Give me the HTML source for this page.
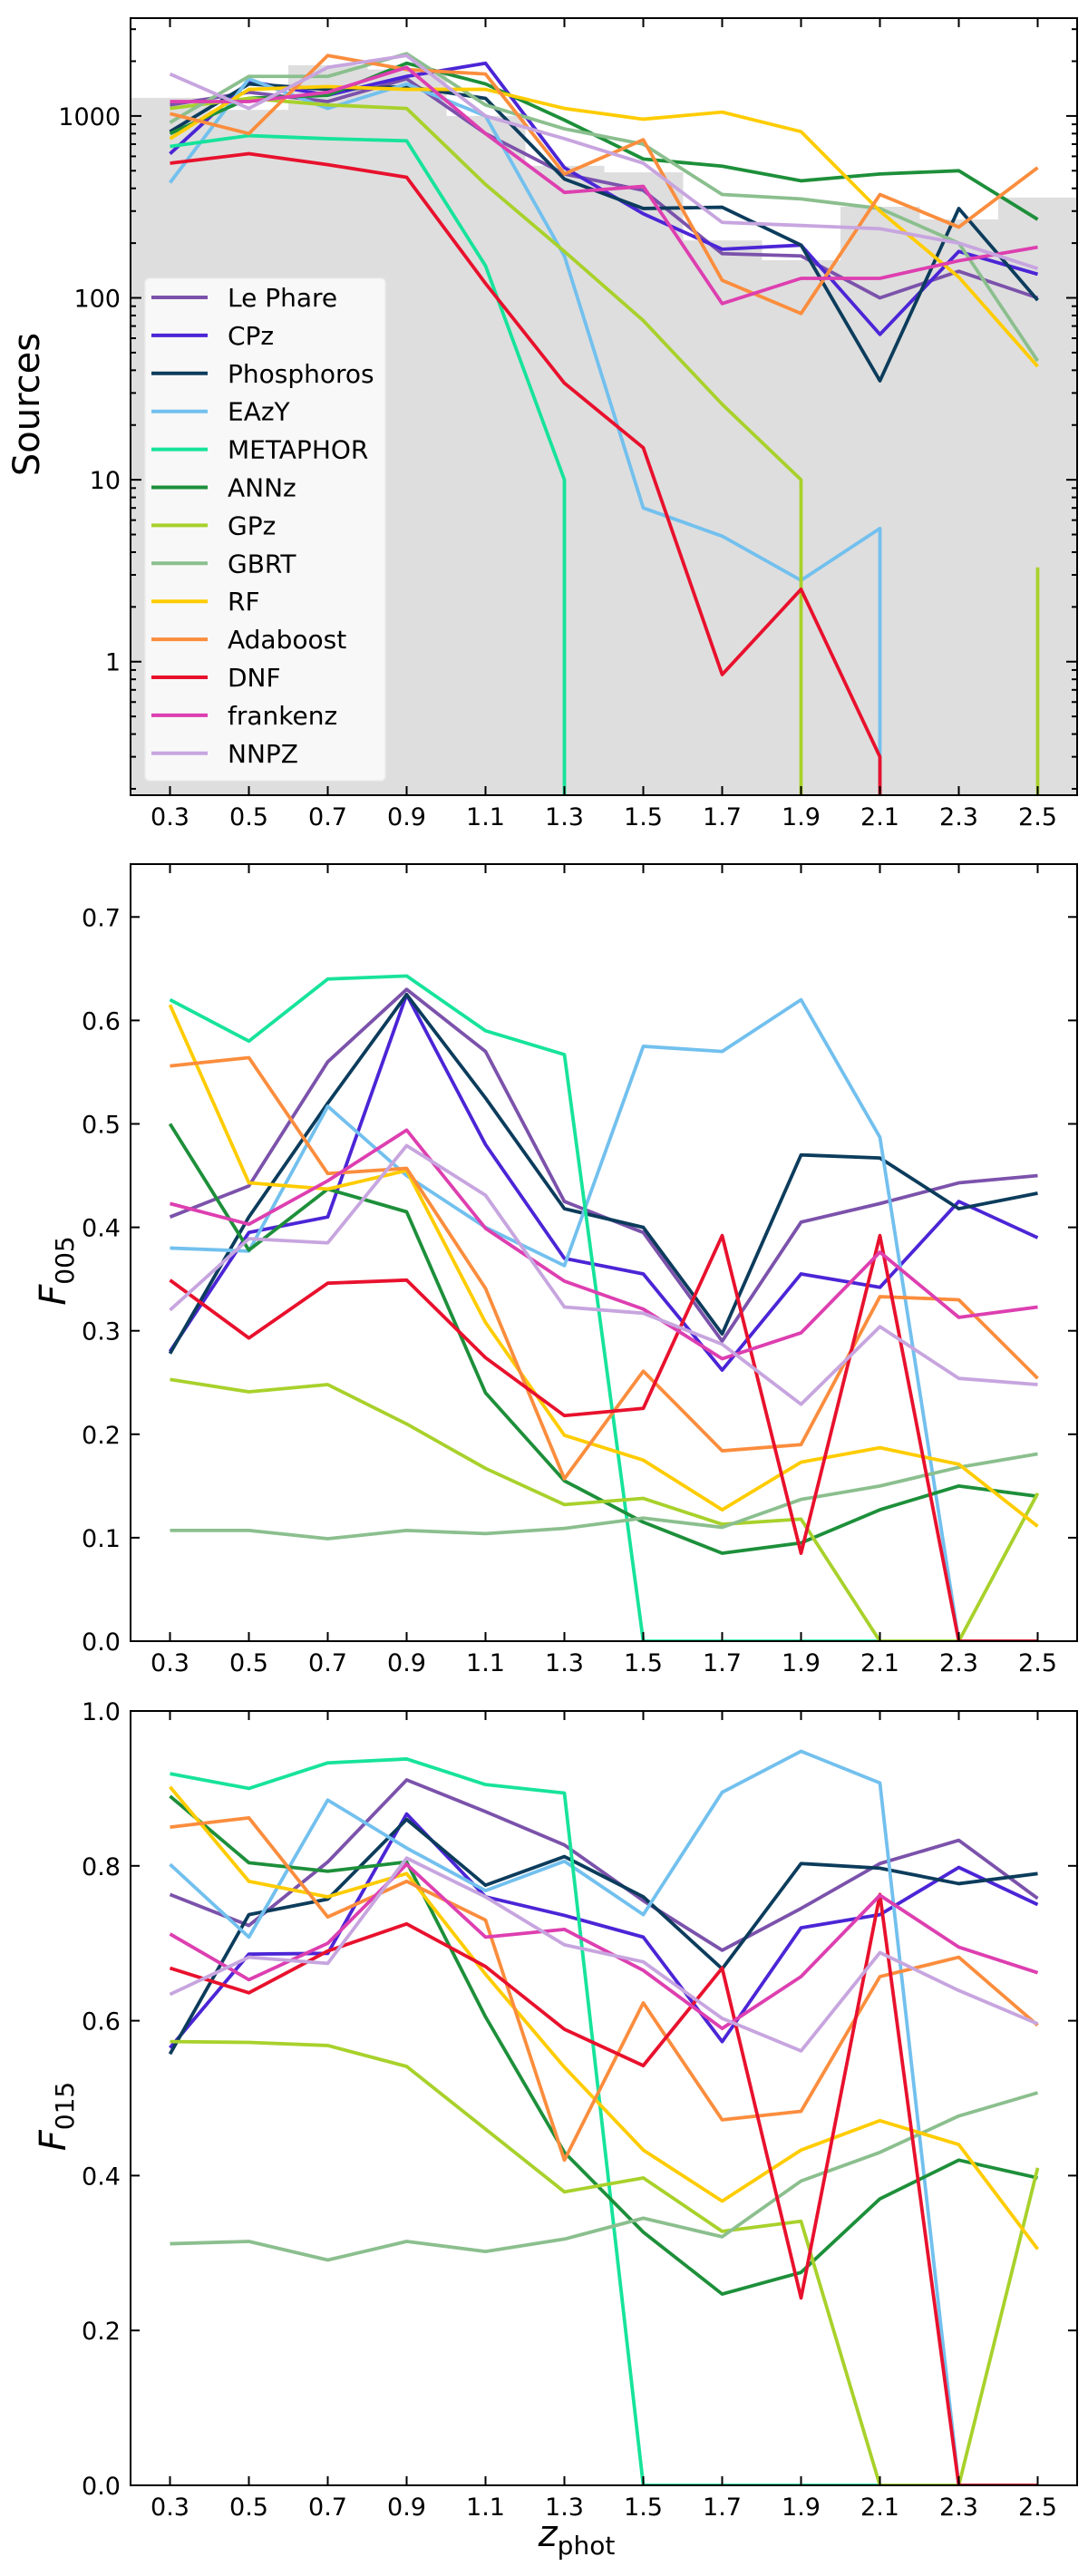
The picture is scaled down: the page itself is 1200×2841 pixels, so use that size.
<!DOCTYPE html>
<html><head><meta charset="utf-8">
<style>
html,body{margin:0;padding:0;background:#fff;overflow:hidden;width:1200px;height:2841px;}
svg{display:block;font-family:"DejaVu Sans","Liberation Sans",sans-serif;}
</style></head>
<body>
<svg id="fig" width="1200" height="2841" viewBox="0 0 1200 2841" xmlns="http://www.w3.org/2000/svg"></svg>
<script>
const categories=[0.3,0.5,0.7,0.9,1.1,1.3,1.5,1.7,1.9,2.1,2.3,2.5];
const methods=["Le Phare","CPz","Phosphoros","EAzY","METAPHOR","ANNz","GPz","GBRT","RF","Adaboost","DNF","frankenz","NNPZ"];
const colors=["#7b52ab","#4b25d6","#0c3c5c","#72c0ee","#17e39b","#1d8f3a","#a8d12b","#8bbf8e","#ffcc00","#fb8d3d","#e8112d","#dd3fb0","#c7a5df"];
// Panel 1: sources (log)
const histEdges=[0.2,0.4,0.6,0.8,1.0,1.2,1.4,1.6,1.8,2.0,2.2,2.4,2.6];
const histCounts=[1258,1080,1900,1800,1000,532,490,207,161,317,270,356];
const srcLePhare=[1150,1350,1200,1600,800,480,390,175,170,100,140,100];
const srcCPz=[620,1550,1300,1650,1950,520,290,185,195,63,180,135];
const srcPhosphoros=[820,1500,1400,1450,1250,450,310,315,195,35,310,97];
const srcEAzY=[430,1600,1100,1500,1000,170,7,4.9,2.8,5.4,0,0];
const srcMETAPHOR=[680,780,750,730,150,10,0,0,0,0,0,0];
const srcANNz=[800,1250,1300,1950,1500,950,580,530,440,480,500,270];
const srcGPz=[1100,1250,1150,1100,420,180,75,26,10,0,0,3.3];
const srcGBRT=[920,1650,1650,2200,1150,850,700,370,350,310,200,45];
const srcRF=[750,1400,1450,1400,1400,1100,960,1050,820,300,130,42];
const srcAdaboost=[1030,800,2150,1800,1700,480,740,125,82,370,245,520];
const srcDNF=[550,620,540,460,120,34,15,0.85,2.5,0.3,0,0];
const srcFrankenz=[1200,1200,1350,1850,800,380,410,93,128,128,160,190];
const srcNNPZ=[1700,1100,1850,2150,1000,750,550,260,250,240,200,145];
// Panel 2: F005
const f005LePhare=[0.41,0.44,0.56,0.63,0.57,0.425,0.395,0.29,0.405,0.423,0.443,0.45];
const f005CPz=[0.28,0.395,0.41,0.625,0.48,0.37,0.355,0.262,0.355,0.342,0.425,0.39];
const f005Phosphoros=[0.278,0.41,0.52,0.625,0.525,0.418,0.40,0.297,0.47,0.467,0.418,0.433];
const f005EAzY=[0.38,0.377,0.517,0.45,0.40,0.363,0.575,0.57,0.62,0.487,0,0];
const f005METAPHOR=[0.62,0.58,0.64,0.643,0.59,0.567,0,0,0,0,0,0];
const f005ANNz=[0.50,0.378,0.437,0.415,0.24,0.155,0.115,0.085,0.095,0.127,0.15,0.14];
const f005GPz=[0.253,0.241,0.248,0.21,0.167,0.132,0.138,0.113,0.118,0,0,0.143];
const f005GBRT=[0.107,0.107,0.099,0.107,0.104,0.109,0.119,0.11,0.137,0.15,0.168,0.181];
const f005RF=[0.615,0.443,0.437,0.455,0.308,0.199,0.175,0.127,0.173,0.187,0.171,0.111];
const f005Adaboost=[0.556,0.564,0.452,0.457,0.341,0.157,0.261,0.184,0.19,0.333,0.33,0.254];
const f005DNF=[0.349,0.293,0.346,0.349,0.274,0.218,0.225,0.392,0.085,0.392,0,0];
const f005Frankenz=[0.423,0.403,0.445,0.494,0.399,0.348,0.321,0.273,0.298,0.376,0.313,0.323];
const f005NNPZ=[0.32,0.389,0.385,0.479,0.431,0.323,0.317,0.287,0.229,0.304,0.254,0.248];
// Panel 3: F015
const f015LePhare=[0.763,0.723,0.805,0.911,0.87,0.827,0.755,0.691,0.745,0.803,0.833,0.758];
const f015CPz=[0.565,0.686,0.687,0.867,0.76,0.736,0.708,0.573,0.72,0.737,0.798,0.75];
const f015Phosphoros=[0.557,0.737,0.757,0.86,0.775,0.812,0.76,0.667,0.803,0.797,0.777,0.79];
const f015EAzY=[0.802,0.708,0.885,0.823,0.768,0.806,0.737,0.895,0.948,0.907,0,0];
const f015METAPHOR=[0.919,0.90,0.933,0.938,0.905,0.894,0,0,0,0,0,0];
const f015ANNz=[0.89,0.804,0.793,0.805,0.605,0.43,0.327,0.247,0.275,0.37,0.42,0.397];
const f015GPz=[0.573,0.572,0.568,0.541,0.46,0.379,0.397,0.328,0.341,0,0,0.41];
const f015GBRT=[0.312,0.315,0.291,0.315,0.302,0.318,0.345,0.321,0.393,0.43,0.477,0.507];
const f015RF=[0.902,0.78,0.76,0.79,0.66,0.54,0.433,0.367,0.433,0.471,0.44,0.305];
const f015Adaboost=[0.85,0.862,0.734,0.78,0.73,0.42,0.623,0.472,0.483,0.657,0.682,0.594];
const f015DNF=[0.668,0.636,0.69,0.725,0.67,0.589,0.542,0.668,0.242,0.763,0,0];
const f015Frankenz=[0.712,0.653,0.7,0.802,0.708,0.718,0.665,0.59,0.657,0.762,0.695,0.662];
const f015NNPZ=[0.634,0.682,0.674,0.81,0.76,0.698,0.676,0.603,0.561,0.688,0.639,0.596];
const xTickLabels=["0.3","0.5","0.7","0.9","1.1","1.3","1.5","1.7","1.9","2.1","2.3","2.5"];
const f005TickLabels=["0.0","0.1","0.2","0.3","0.4","0.5","0.6","0.7"];
const f015TickLabels=["0.0","0.2","0.4","0.6","0.8","1.0"];
const logTickLabels=["1","10","100","1000"];

const srcSeries=[srcLePhare,srcCPz,srcPhosphoros,srcEAzY,srcMETAPHOR,srcANNz,srcGPz,srcGBRT,srcRF,srcAdaboost,srcDNF,srcFrankenz,srcNNPZ];
const f005Series=[f005LePhare,f005CPz,f005Phosphoros,f005EAzY,f005METAPHOR,f005ANNz,f005GPz,f005GBRT,f005RF,f005Adaboost,f005DNF,f005Frankenz,f005NNPZ];
const f015Series=[f015LePhare,f015CPz,f015Phosphoros,f015EAzY,f015METAPHOR,f015ANNz,f015GPz,f015GBRT,f015RF,f015Adaboost,f015DNF,f015Frankenz,f015NNPZ];

const NS="http://www.w3.org/2000/svg";
const svg=document.getElementById('fig');
function el(tag,attrs,parent){const e=document.createElementNS(NS,tag);for(const k in attrs)e.setAttribute(k,attrs[k]);(parent||svg).appendChild(e);return e;}
const L=144,R=1188;
const zMin=0.2,zMax=2.6;
function xs(z){return L+(z-zMin)/(zMax-zMin)*(R-L);}

function makePanel(id,top,bottom){
  const g=el('g',{});
  
  
  const cp=el('clipPath',{id:'clip-'+id},g);
  el('rect',{x:L,y:top,width:R-L,height:bottom-top},cp);
  const plot=el('g',{'clip-path':'url(#clip-'+id+')'},g);
  return {g,plot};
}

// logFloor: if set, non-positive values drop vertically to this y (log-axis clip behaviour)
function drawLines(plot,series,yfun,prefix,logFloor){
  series.forEach((arr,i)=>{
    const pts=[];
    arr.forEach((v,j)=>{
      const x=xs(categories[j]);
      if(logFloor!==undefined && v<=0){
        if(j>0 && arr[j-1]>0) pts.push([xs(categories[j-1]),logFloor]);
        if(j<arr.length-1 && arr[j+1]>0) pts.push([xs(categories[j+1]),logFloor]);
        if(j===0) pts.push([x,logFloor]);
      } else pts.push([x,yfun(v)]);
    });
    let d='';
    pts.forEach((p,k)=>{d+=(k?'L':'M')+p[0].toFixed(2)+','+p[1].toFixed(2);});
    const p=el('path',{d:d,fill:'none',stroke:colors[i],'stroke-width':3.8,'stroke-linejoin':'round'},plot);
    
    
  });
}

function frame(g,top,bottom,id){
  const f=el('rect',{x:L,y:top,width:R-L,height:bottom-top,fill:'none',stroke:'#000','stroke-width':2},g);
  
  
  categories.forEach((z,j)=>{
    const x=xs(z);
    el('line',{x1:x,y1:bottom,x2:x,y2:bottom-10,stroke:'#000','stroke-width':2},g);
    el('line',{x1:x,y1:top,x2:x,y2:top+10,stroke:'#000','stroke-width':2},g);
    const t=el('text',{x:x,y:bottom+33,'font-size':27,'text-anchor':'middle'},g);
    t.textContent=xTickLabels[j];
    
    
  });
}

function yTick(g,y,label,id,len){
  el('line',{x1:L,y1:y,x2:L+len,y2:y,stroke:'#000','stroke-width':2},g);
  el('line',{x1:R,y1:y,x2:R-len,y2:y,stroke:'#000','stroke-width':2},g);
  if(label!==null){
    const t=el('text',{x:133,y:y+10,'font-size':27,'text-anchor':'end'},g);
    t.textContent=label;
    
    
  }
}

// ---------- Panel 1 ----------
(function(){
  const top=20,bottom=877;
  const vTop=3450,vBot=0.1845;
  const lt=Math.log10(vTop),lb=Math.log10(vBot);
  function ys(v){return top+(lt-Math.log10(v))/(lt-lb)*(bottom-top);}
  const {g,plot}=makePanel('sources',top,bottom);
  histCounts.forEach((c,i)=>{
    const r=el('rect',{x:xs(histEdges[i]),y:ys(c),width:xs(histEdges[i+1])-xs(histEdges[i])+0.5,height:bottom-ys(c),fill:'#dedede'},plot);
    
    
  });
  drawLines(plot,srcSeries,ys,'sources',bottom+6);
  const lg=el('g',{},g);
  
  
  el('rect',{x:160,y:307,width:265,height:554,rx:5,fill:'#f8f8f8',stroke:'#ececec','stroke-width':1.5},lg);
  methods.forEach((m,i)=>{
    const y=328+i*41.9;
    const ln=el('line',{x1:167,y1:y,x2:229,y2:y,stroke:colors[i],'stroke-width':4},lg);
    
    
    const t=el('text',{x:251,y:y+10,'font-size':28},lg);
    t.textContent=m;
    
    
  });
  frame(g,top,bottom,'sources');
  for(let e=-1;e<=3;e++){
    for(let k=1;k<=9;k++){
      const v=k*Math.pow(10,e);
      if(v<vBot||v>vTop)continue;
      const y=ys(v);
      if(k===1) yTick(g,y,logTickLabels[e],'sources',12);
      else yTick(g,y,null,'sources',6);
    }
  }
  const cy=446;
  const yl=el('text',{x:43,y:cy,'font-size':40,'text-anchor':'middle',transform:'rotate(-90 43 '+cy+')'},g);
  yl.textContent='Sources';
  
  
})();

// ---------- Panel 2 ----------
(function(){
  const top=953,bottom=1810;
  const vMax=(bottom-top)/1141;
  function ys(v){return bottom-v/vMax*(bottom-top);}
  const {g,plot}=makePanel('f005',top,bottom);
  drawLines(plot,f005Series,ys,'f005');
  frame(g,top,bottom,'f005');
  f005TickLabels.forEach(lbl=>yTick(g,ys(parseFloat(lbl)),lbl,'f005',10));
  const cy=(top+bottom)/2+20;
  const yl=el('text',{x:72,y:cy,'font-size':40,'text-anchor':'middle',transform:'rotate(-90 72 '+cy+')'},g);
  yl.innerHTML='<tspan font-style="italic">F</tspan><tspan font-size="28" dy="9">005</tspan>';
  
  
})();

// ---------- Panel 3 ----------
(function(){
  const top=1887,bottom=2741;
  function ys(v){return bottom-v*(bottom-top);}
  const {g,plot}=makePanel('f015',top,bottom);
  drawLines(plot,f015Series,ys,'f015');
  frame(g,top,bottom,'f015');
  f015TickLabels.forEach(lbl=>yTick(g,ys(parseFloat(lbl)),lbl,'f015',10));
  const cy=(top+bottom)/2+20;
  const yl=el('text',{x:72,y:cy,'font-size':40,'text-anchor':'middle',transform:'rotate(-90 72 '+cy+')'},g);
  yl.innerHTML='<tspan font-style="italic">F</tspan><tspan font-size="28" dy="9">015</tspan>';
  
  
  const xl=el('text',{x:(L+R)/2-30,y:2808,'font-size':40,'text-anchor':'middle'},g);
  xl.innerHTML='<tspan font-style="italic">z</tspan><tspan font-size="28" dy="9">phot</tspan>';
  
  
})();
</script>
</body></html>
